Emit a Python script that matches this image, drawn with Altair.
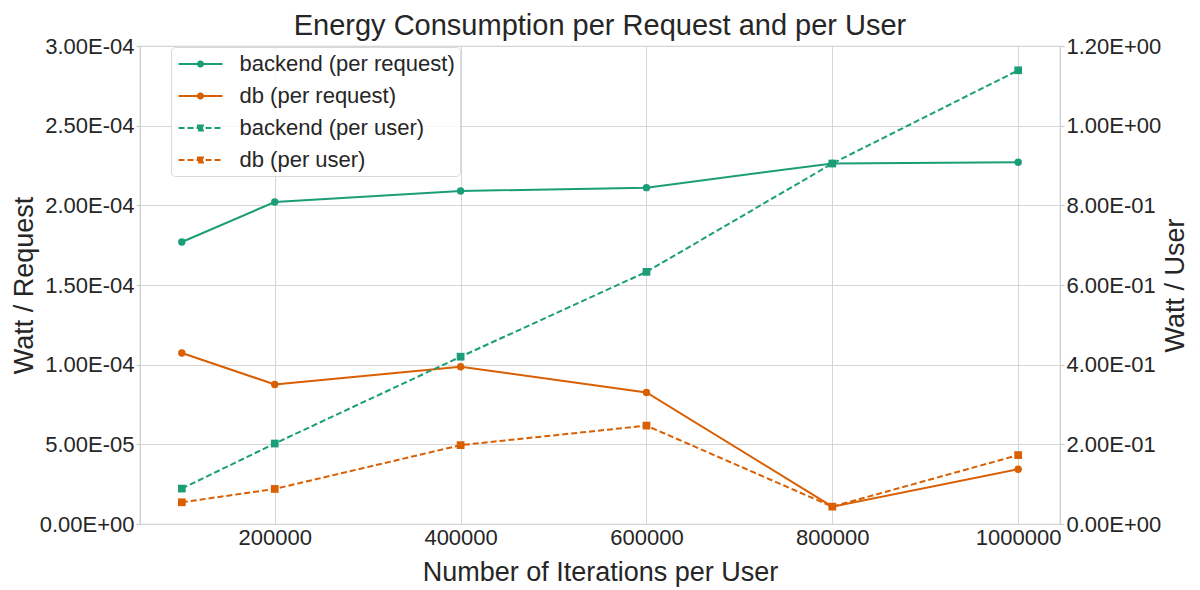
import altair as alt
import pandas as pd

# ---------------- data ----------------
iterations = [100000, 200000, 400000, 600000, 800000, 1000000]
backend_per_request = [1.770e-4, 2.021e-4, 2.090e-4, 2.111e-4, 2.263e-4, 2.270e-4]
db_per_request = [1.073e-4, 0.876e-4, 0.987e-4, 0.826e-4, 0.109e-4, 0.344e-4]
backend_per_user = [0.0889, 0.202, 0.420, 0.633, 0.905, 1.139]
db_per_user = [0.0545, 0.088, 0.198, 0.247, 0.0436, 0.173]

series_names = ["backend (per request)", "db (per request)",
                "backend (per user)", "db (per user)"]
x_ticks = [200000, 400000, 600000, 800000, 1000000]
left_ticks = [0, 5e-5, 1e-4, 1.5e-4, 2e-4, 2.5e-4, 3e-4]
right_ticks = [0, 0.2, 0.4, 0.6, 0.8, 1.0, 1.2]

def to_long(values, name):
    return pd.DataFrame({"iterations": iterations, "value": values, "series": name})

req_df = pd.concat([to_long(backend_per_request, series_names[0]),
                    to_long(db_per_request, series_names[1])], ignore_index=True)
user_df = pd.concat([to_long(backend_per_user, series_names[2]),
                     to_long(db_per_user, series_names[3])], ignore_index=True)

# ---------------- style ----------------
FONT = "Liberation Sans"
TEXT = "#262626"
GREEN = "#1b9e77"
ORANGE = "#d95f02"
GRID = "#d6d6d6"
SCI = "replace(replace(format(datum.value, '.2e'), 'e-', 'E-0'), 'e+', 'E+0')"

# legend symbols: a horizontal line with a marker in the middle
CIRCLE_PATH = "M-2,0H2M0.23,0A0.23,0.23,0,1,1,-0.23,0A0.23,0.23,0,1,1,0.23,0Z"
SQUARE_PATH = "M-2,0H2M-0.23,-0.23H0.23V0.23H-0.23Z"

color_scale = alt.Scale(domain=series_names, range=[GREEN, ORANGE, GREEN, ORANGE])
shape_scale = alt.Scale(domain=series_names,
                        range=[CIRCLE_PATH, CIRCLE_PATH, SQUARE_PATH, SQUARE_PATH])
dash_scale = alt.Scale(domain=series_names, range=[[1, 0], [1, 0], [6, 3], [6, 3]])

legend = alt.Legend(
    title=None, orient="none", legendX=31, legendY=1,
    labelFont=FONT, labelFontSize=22, labelColor=TEXT, labelOffset=27, labelLimit=400,
    symbolSize=484, symbolStrokeWidth=2, symbolOpacity=1, symbolOffset=12.5,
    rowPadding=9, padding=5,
    fillColor="rgba(255,255,255,0.8)", strokeColor="#d9d9d9", cornerRadius=4,
)

x_enc = alt.X(
    "iterations:Q",
    scale=alt.Scale(domain=[55000, 1045000], nice=False, zero=False),
    axis=alt.Axis(values=x_ticks, format="d", title="Number of Iterations per User",
                  ticks=False, labelPadding=3, titlePadding=11, grid=True),
)

y_left = alt.Y(
    "value:Q",
    scale=alt.Scale(domain=[0, 3e-4], nice=False, zero=True),
    axis=alt.Axis(values=left_ticks, labelExpr=SCI, title="Watt / Request", orient="left",
                  tickSize=4, labelPadding=2, titlePadding=1, grid=True),
)
y_right = alt.Y(
    "value:Q",
    scale=alt.Scale(domain=[0, 1.2], nice=False, zero=True),
    axis=alt.Axis(values=right_ticks, labelExpr=SCI, title="Watt / User", orient="right",
                  tickSize=4, labelPadding=2, titlePadding=2, grid=False,
                  titleAngle=270, titleBaseline="top"),
)

def color_enc():
    return alt.Color("series:N", scale=color_scale, legend=legend)

# legend carrier: no rows drawn, the legend is built from the scale domains
legend_layer = (
    alt.Chart(req_df)
    .transform_filter("datum.value < 0")
    .mark_point(filled=True, opacity=1, strokeWidth=2)
    .encode(
        x=x_enc, y=y_left,
        color=color_enc(),
        stroke=alt.Stroke("series:N", scale=color_scale, legend=legend),
        shape=alt.Shape("series:N", scale=shape_scale, legend=legend),
        strokeDash=alt.StrokeDash("series:N", scale=dash_scale, legend=legend),
    )
)
req_line = alt.Chart(req_df).mark_line(strokeWidth=2).encode(
    x=x_enc, y=y_left, color=color_enc(),
)
req_pts = alt.Chart(req_df).mark_point(filled=True, shape="circle", size=55, opacity=1).encode(
    x=x_enc, y=y_left, color=color_enc(),
)
user_line = alt.Chart(user_df).mark_line(strokeWidth=2, strokeDash=[6, 3]).encode(
    x=x_enc, y=y_right, color=color_enc(),
)
user_pts = alt.Chart(user_df).mark_point(filled=True, shape="square", size=60, opacity=1).encode(
    x=x_enc, y=y_right, color=color_enc(),
)

chart = (
    alt.layer(alt.layer(legend_layer, req_line, req_pts), alt.layer(user_line, user_pts))
    .resolve_scale(y="independent")
    .properties(
        width=920, height=478,
        autosize=alt.AutoSizeParams(type="none"),
        padding={"left": 132, "right": 132, "top": 38, "bottom": 66},
        title=alt.TitleParams("Energy Consumption per Request and per User"),
        background="white",
    )
    .configure(font=FONT)
    .configure_view(stroke="#cccccc", strokeWidth=1.25)
    .configure_axis(
        gridColor=GRID, gridWidth=1, domain=False, tickColor="#cccccc", tickWidth=1.25,
        labelFont=FONT, labelFontSize=22, labelColor=TEXT,
        titleFont=FONT, titleFontSize=27, titleFontWeight="normal", titleColor=TEXT,
    )
    .configure_title(font=FONT, fontSize=29, fontWeight="normal", color=TEXT,
                     offset=-6, anchor="middle")
)

chart.save("out.html", embed_options={"renderer": "svg", "actions": False})
